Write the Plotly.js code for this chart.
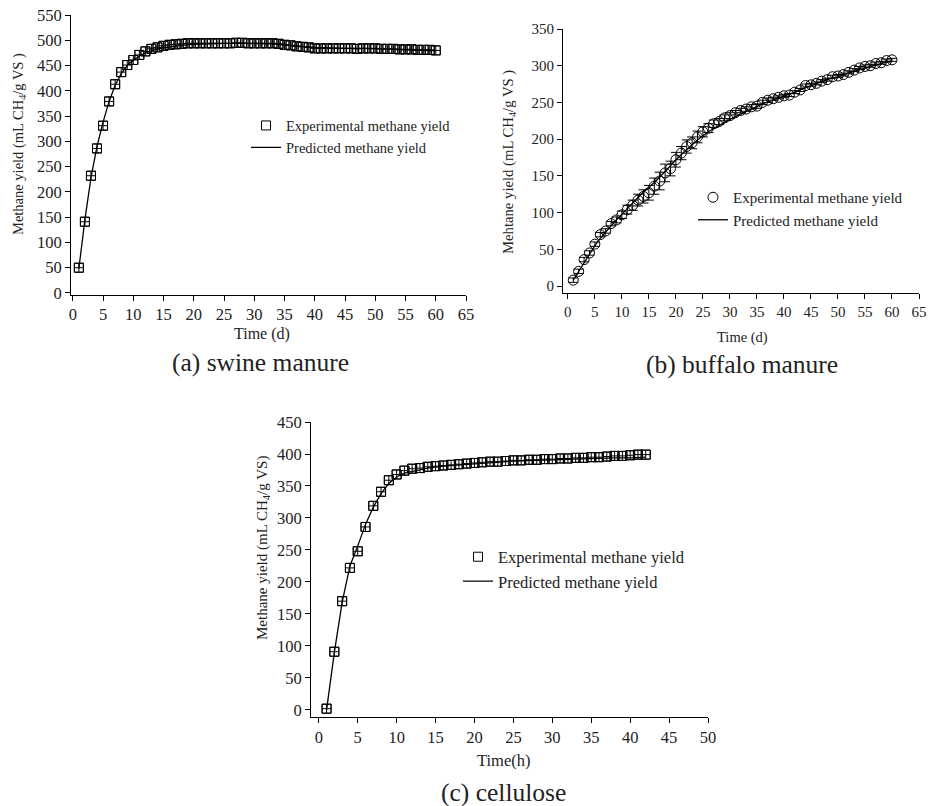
<!DOCTYPE html>
<html><head><meta charset="utf-8">
<script src="https://cdn.plot.ly/plotly-3.0.1.min.js"></script>
<style>html,body{margin:0;padding:0;background:#fff}#chart{width:931px;height:806px}</style>
</head><body><div id="chart"></div>
<script>
// ---------- data ----------
const dayA = [1,2,3,4,5,6,7,8,9,10,11,12,13,14,15,16,17,18,19,20,21,22,23,24,25,26,27,28,29,30,31,32,33,34,35,36,37,38,39,40,41,42,43,44,45,46,47,48,49,50,51,52,53,54,55,56,57,58,59,60];
const expA = [50,141,232,286,331,379,413,437,451,461,471,478,483,486,489,491,492,493,494,494,494,494,494,494,494,494,495,495,494,494,494,494,494,493,491,490,488,487,486,484,484,484,484,484,484,484,483,484,484,484,483,483,483,482,482,482,481,481,481,480];
const predAx = [1,2,3,4,5,6,7,8,9,10,11,12,13,14,15,16,18,20,22,25,28,30,33,35,38,40,43,45,48,50,53,55,58,60];
const predAy = [48,145,228,290,338,379,411,434,450,461,469,475,479,483,485,487,490,492,493,494,494,494,493,491,488,486,485,484,484,483,482,481,480,479];

const dayB = dayA;
const expB = [8,20,36,45,57,70,75,85,90,97,104,110,117,122,127,136,143,154,160,172,181,190,195,203,210,215,221,224,229,232,236,239,241,244,245,250,253,255,257,259,260,264,267,273,274,276,279,281,285,286,288,291,294,297,299,300,303,304,307,308];
const errB = [3,3,3,3,3,3,3,3,4,5,6,7,8,9,10,11,12,12,10,10,9,9,8,8,7,6,5,4,4,4,3,3,3,3,3,3,3,2,2,2,2,2,2,2,2,2,2,2,2,2,2,2,2,2,2,2,2,2,2,2];
const predBx = [1,2,3,4,5,6,7,8,9,10,12,14,16,18,20,22,24,26,28,30,32,34,36,38,40,42,44,46,48,50,52,54,56,58,60];
const predBy = [8,20,33,44,55,65,74,82,90,98,113,128,141,156,172,186,199,210,219,227,234,241,248,253,258,264,270,276,281,285,290,295,299,303,307];

const hourC = [1,2,3,4,5,6,7,8,9,10,11,12,13,14,15,16,17,18,19,20,21,22,23,24,25,26,27,28,29,30,31,32,33,34,35,36,37,38,39,40,41,42];
const expC = [2,91,170,222,248,286,319,341,359,368,374,377,378,380,381,382,383,384,385,386,387,388,388,389,390,390,391,391,392,392,393,393,394,394,395,395,396,397,397,398,399,399];
const predCx = [1,2,3,4,5,6,7,8,9,10,11,12,13,14,16,18,20,22,25,28,30,33,35,38,40,42];
const predCy = [0,90,168,225,256,290,317,338,354,364,370,373,376,378,381,383,385,387,389,390,391,392,393,394,394,395];

const legExp = 'Experimental methane yield';
const legPred = 'Predicted methane yield';

// ---------- geometry helpers ----------
const W = 931, H = 806;
const fx = p => p / W;
const fy = p => 1 - p / H;
const FONT = 'Liberation Serif, Times New Roman, serif';
const INK = '#222';

function axis(domainPx, range, dtick, fs, anchor, isY) {
  return {
    domain: isY ? [fy(domainPx[1]), fy(domainPx[0])] : [fx(domainPx[0]), fx(domainPx[1])],
    range: range, dtick: dtick, tick0: 0, anchor: anchor,
    showline: true, linecolor: '#000', linewidth: 1,
    ticks: 'outside', ticklen: 5, tickcolor: '#000', tickwidth: 1,
    showgrid: false, zeroline: false,
    tickfont: {family: FONT, size: fs, color: INK}
  };
}

const traces = [
  // (a)
  {x: dayA, y: expA, xaxis: 'x', yaxis: 'y', mode: 'markers', name: legExp, legend: 'legend',
   marker: {symbol: 'square-open', size: 9, color: '#000', line: {width: 1}}},
  {x: dayA, y: expA, xaxis: 'x', yaxis: 'y', mode: 'markers', showlegend: false,
   marker: {symbol: 'square-cross-open', size: 9, color: '#000', line: {width: 1}}},
  {x: predAx, y: predAy, xaxis: 'x', yaxis: 'y', mode: 'lines', name: legPred, legend: 'legend',
   line: {color: '#000', width: 1.3}},
  // (b)
  {x: dayB, y: expB, xaxis: 'x2', yaxis: 'y2', mode: 'markers', name: legExp, legend: 'legend2',
   error_y: {type: 'data', array: errB, visible: true, color: '#000', thickness: 1, width: 5},
   marker: {symbol: 'circle-open', size: 10, color: '#000', line: {width: 1}}},
  {x: predBx, y: predBy, xaxis: 'x2', yaxis: 'y2', mode: 'lines', name: legPred, legend: 'legend2',
   line: {color: '#000', width: 1.3}},
  // (c)
  {x: hourC, y: expC, xaxis: 'x3', yaxis: 'y3', mode: 'markers', name: legExp, legend: 'legend3',
   marker: {symbol: 'square-open', size: 9, color: '#000', line: {width: 1}}},
  {x: hourC, y: expC, xaxis: 'x3', yaxis: 'y3', mode: 'markers', showlegend: false,
   marker: {symbol: 'square-cross-open', size: 9, color: '#000', line: {width: 1}}},
  {x: predCx, y: predCy, xaxis: 'x3', yaxis: 'y3', mode: 'lines', name: legPred, legend: 'legend3',
   line: {color: '#000', width: 1.3}}
];

function leg(xpx, ypx, fs) {
  return {x: fx(xpx), y: fy(ypx), xanchor: 'left', yanchor: 'top', xref: 'paper', yref: 'paper',
          bgcolor: 'rgba(0,0,0,0)', borderwidth: 0, font: {family: FONT, size: fs, color: INK},
          traceorder: 'normal'};
}

function ann(text, xpx, ypx, fs, rot) {
  return {text: text, x: fx(xpx), y: fy(ypx), xref: 'paper', yref: 'paper', showarrow: false,
          xanchor: 'center', yanchor: 'middle', textangle: rot || 0,
          font: {family: FONT, size: fs, color: INK}};
}

const layout = {
  width: W, height: H, margin: {l: 0, r: 0, t: 0, b: 0},
  paper_bgcolor: '#fff', plot_bgcolor: 'rgba(0,0,0,0)',
  font: {family: FONT, color: INK},
  xaxis:  axis([71, 466], [-0.3, 65], 5, 16.5, 'y', false),
  yaxis:  axis([15, 294.5], [-3, 550], 50, 16.5, 'x', true),
  xaxis2: axis([563, 919], [-0.9, 65], 5, 15, 'y2', false),
  yaxis2: axis([29, 293], [-9.5, 350], 50, 15, 'x2', true),
  xaxis3: axis([311, 708], [-1, 50], 5, 16.5, 'y3', false),
  yaxis3: axis([422, 717], [-11, 450], 50, 16.5, 'x3', true),
  legend: leg(246, 109.5, 14.5),
  legend2: leg(693, 181, 15),
  legend3: leg(458, 539.5, 16.5),
  annotations: [
    ann('Methane yield (mL CH<sub>4</sub>/g VS )', 19, 144, 14.5, -90),
    ann('Time (d)', 262, 334, 16),
    ann('(a) swine manure', 260, 362, 25.5),
    ann('Mehtane yield (mL CH<sub>4</sub>/g VS )', 509, 162, 14.7, -90),
    ann('Time (d)', 742, 337, 14.5),
    ann('(b) buffalo manure', 742, 364, 25.5),
    ann('Methane yield (mL CH<sub>4</sub>/g VS)', 263, 548, 15, -90),
    ann('Time(h)', 503, 760, 16.5),
    ann('(c) cellulose', 503, 792, 25.5)
  ]
};

Plotly.newPlot('chart', traces, layout, {staticPlot: true, displayModeBar: false});
</script>
</body></html>
